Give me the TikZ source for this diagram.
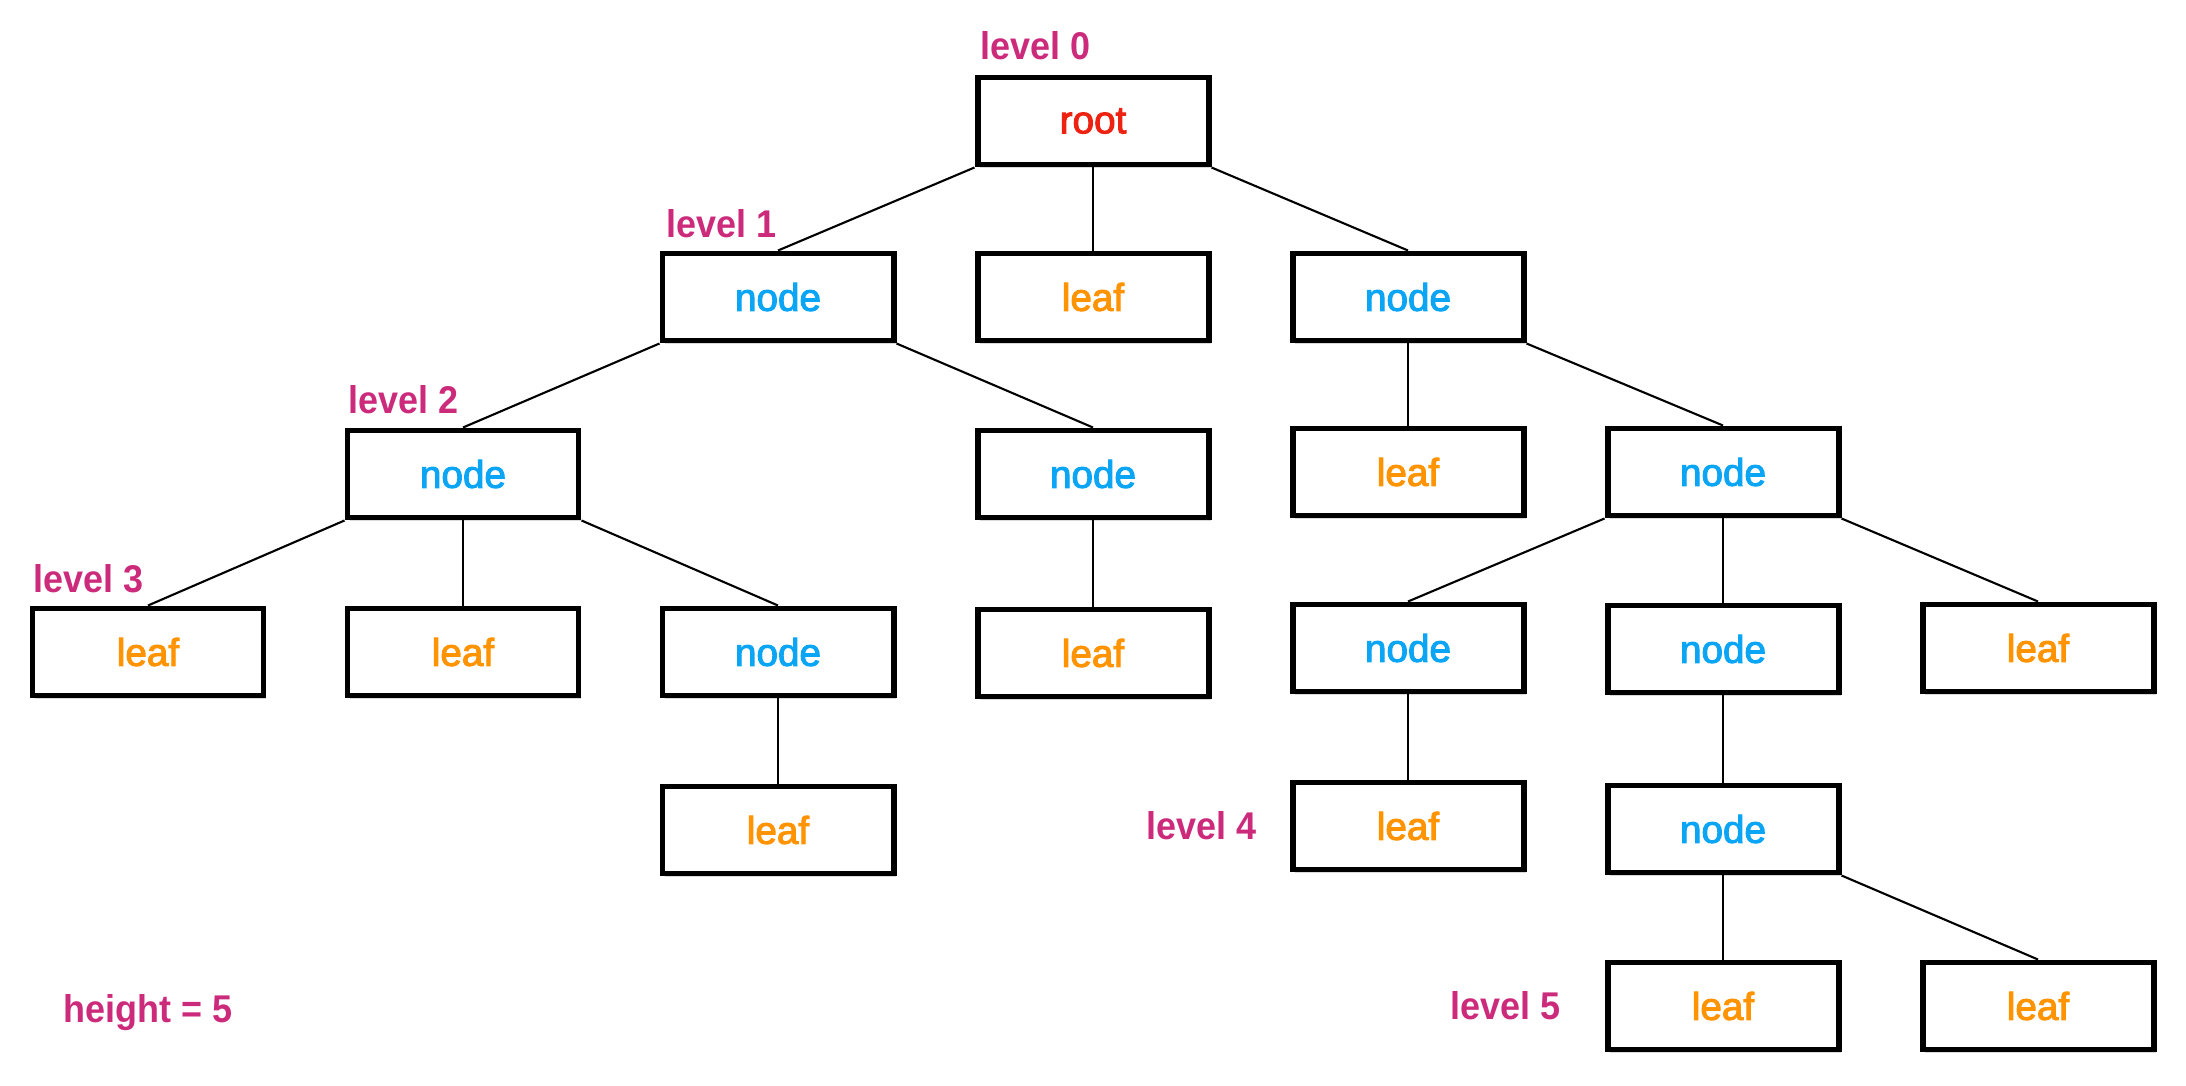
\documentclass[tikz,border=0pt]{standalone}
\usepackage{fontspec}
\setmainfont{Liberation Sans}
\newfontfamily\boxfont{Liberation Sans}[FakeBold=2.6]
\newfontfamily\lvlfont{Liberation Sans Bold}[FakeStretch=0.93]
\usepackage{tikz}
\usetikzlibrary{positioning,shadows,calc}
\definecolor{lvlpink}{RGB}{204, 42, 123}
\definecolor{rootred}{RGB}{238, 34, 17}
\definecolor{nodeblue}{RGB}{10, 165, 245}
\definecolor{leaforange}{RGB}{255, 147, 0}

\begin{document}
\begin{tikzpicture}[
            treebox/.style={draw, line width=1.7pt, fill=white, minimum width=2.31cm, minimum height=0.87cm, font=\boxfont\fontsize{11}{13}\selectfont, drop shadow={shadow xshift=0.8pt, shadow yshift=-1pt, opacity=0.3}},
            innerbox/.style={treebox, text=nodeblue},
            leafbox/.style={treebox, text=leaforange},
            lvl/.style={text=lvlpink, font=\lvlfont\fontsize{11}{13}\selectfont, inner sep=0pt},
            edge/.style={line width=0.6pt}
        ]
            \useasboundingbox (0,0) rectangle (21.86,-10.86);

            % Level 0
            \node[treebox, text=rootred] (root) at (10.93,-1.21) {root};

            % Level 1
            \node[innerbox] (n1a) at (7.78,-2.97) {node};
            \node[leafbox] (l1) at (10.93,-2.97) {leaf};
            \node[innerbox] (n1b) at (14.08,-2.97) {node};

            % Level 2
            \node[innerbox] (n2a) at (4.63,-4.74) {node};
            \node[innerbox] (n2b) at (10.93,-4.74) {node};
            \node[leafbox] (l2) at (14.08,-4.72) {leaf};
            \node[innerbox] (n2c) at (17.23,-4.72) {node};

            % Level 3
            \node[leafbox] (l3a) at (1.48,-6.52) {leaf};
            \node[leafbox] (l3b) at (4.63,-6.52) {leaf};
            \node[innerbox] (n3a) at (7.78,-6.52) {node};
            \node[leafbox] (l3c) at (10.93,-6.53) {leaf};
            \node[innerbox] (n3b) at (14.08,-6.48) {node};
            \node[innerbox] (n3c) at (17.23,-6.49) {node};
            \node[leafbox] (l3d) at (20.38,-6.48) {leaf};

            % Level 4
            \node[leafbox] (l4a) at (7.78,-8.30) {leaf};
            \node[leafbox] (l4b) at (14.08,-8.26) {leaf};
            \node[innerbox] (n4) at (17.23,-8.29) {node};

            % Level 5
            \node[leafbox] (l5a) at (17.23,-10.06) {leaf};
            \node[leafbox] (l5b) at (20.38,-10.06) {leaf};

            % Edges
            \draw[edge] (root.south west) -- (n1a.north);
            \draw[edge] (root.south) -- (l1.north);
            \draw[edge] (root.south east) -- (n1b.north);
            \draw[edge] (n1a.south west) -- (n2a.north);
            \draw[edge] (n1a.south east) -- (n2b.north);
            \draw[edge] (n1b.south) -- (l2.north);
            \draw[edge] (n1b.south east) -- (n2c.north);
            \draw[edge] (n2a.south west) -- (l3a.north);
            \draw[edge] (n2a.south) -- (l3b.north);
            \draw[edge] (n2a.south east) -- (n3a.north);
            \draw[edge] (n2b.south) -- (l3c.north);
            \draw[edge] (n2c.south west) -- (n3b.north);
            \draw[edge] (n2c.south) -- (n3c.north);
            \draw[edge] (n2c.south east) -- (l3d.north);
            \draw[edge] (n3a.south) -- (l4a.north);
            \draw[edge] (n3b.south) -- (l4b.north);
            \draw[edge] (n3c.south) -- (n4.north);
            \draw[edge] (n4.south) -- (l5a.north);
            \draw[edge] (n4.south east) -- (l5b.north);

            % Level labels
            \node[lvl, anchor=base west] (lv0) at ($(root.north west)+(0.05,0.15)$) {level 0};
            \node[lvl, anchor=base west] (lv1) at ($(n1a.north west)+(0.06,0.13)$) {level 1};
            \node[lvl, anchor=base west] (lv2) at ($(n2a.north west)+(0.03,0.14)$) {level 2};
            \node[lvl, anchor=base west] (lv3) at ($(l3a.north west)+(0.03,0.13)$) {level 3};
            \node[lvl, anchor=base east] (lv4) at ($(l4b.west)+(-0.32,-0.135)$) {level 4};
            \node[lvl, anchor=base east] (lv5) at ($(l5a.west)+(-0.43,-0.135)$) {level 5};
            \node[lvl, anchor=base west] (ht) at (0.63,-10.22) {height = 5};
        \end{tikzpicture}
\end{document}
